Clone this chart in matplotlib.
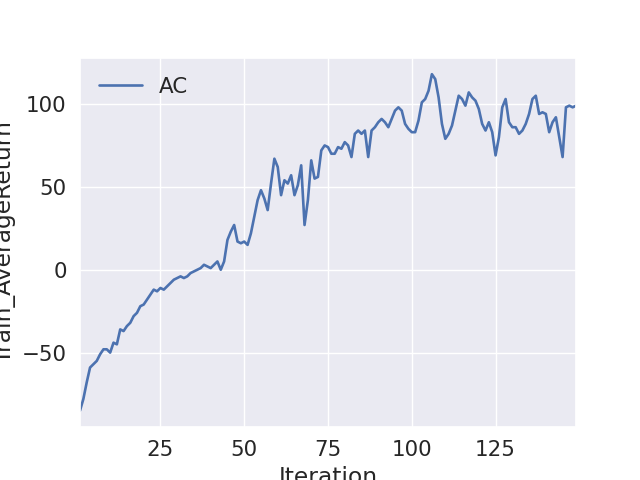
import matplotlib
matplotlib.use("Agg")
import matplotlib.pyplot as plt
import seaborn as sns
import numpy as np

sns.set_theme(style="darkgrid", font_scale=1.4)

iterations = list(range(1, 150))
returns = [-85,-78,-68,-59,-57,-55,-51,-48,-48,-50,
           -44,-45,-36,-37,-34,-32,-28,-26,-22,-21,
           -18,-15,-12,-13,-11,-12,-10,-8,-6,-5,
           -4,-5,-4,-2,-1,0,1,3,2,1,
           3,5,0,5,18,23,27,17,16,17,
           15,22,32,42,48,43,36,52,67,62,
           45,54,52,57,45,51,63,27,42,66,
           55,56,72,75,74,70,70,74,73,77,
           75,68,82,84,82,84,68,84,86,89,
           91,89,86,91,96,98,96,88,85,83,
           83,90,101,103,108,118,115,104,88,79,
           82,87,96,105,103,99,107,104,102,97,
           88,84,89,83,69,80,98,103,89,86,
           86,82,84,88,94,103,105,94,95,94,
           83,89,92,80,68,98,99,98,99]

fig, ax = plt.subplots(figsize=(6.4, 4.8), dpi=100)
ax.plot(iterations, returns, label="AC", linewidth=1.9)
ax.set_xlim(1, 149)
ax.set_ylim(-95, 128)
ax.set_xticks([25, 50, 75, 100, 125])
ax.set_yticks([-50, 0, 50, 100])
ax.set_xlabel("Iteration")
ax.set_ylabel("Train_AverageReturn")
ax.legend(loc="upper left", frameon=False)
fig.subplots_adjust(left=0.125, right=0.9, bottom=0.11, top=0.88)
fig.savefig("out.png")
